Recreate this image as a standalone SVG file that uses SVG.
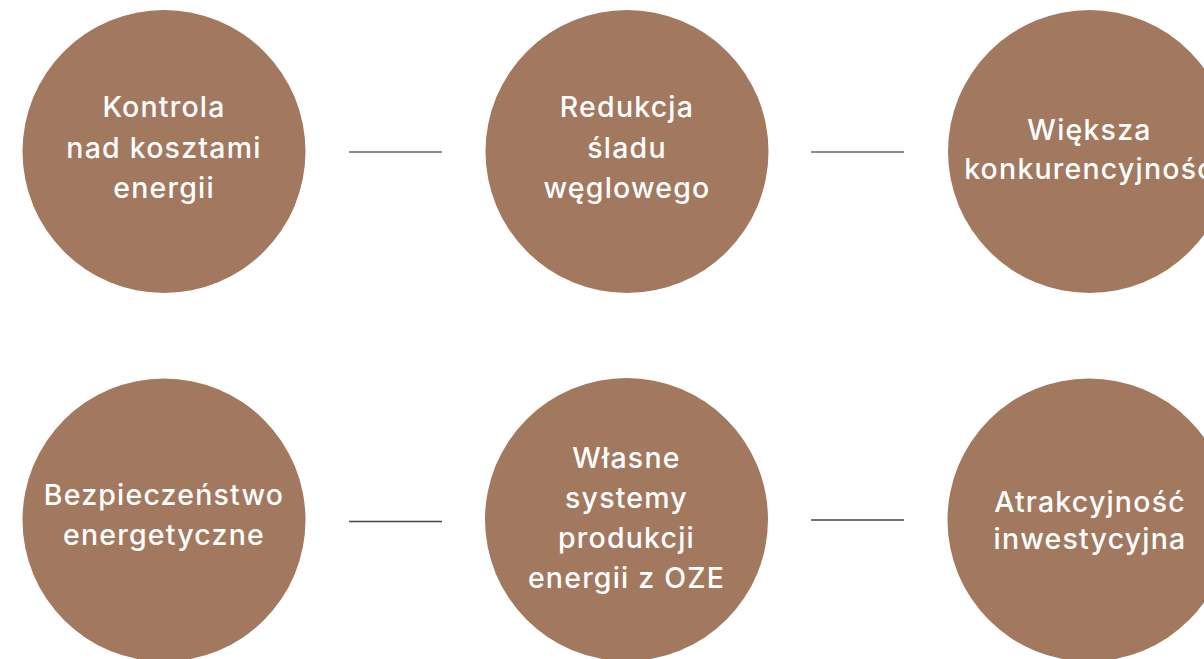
<svg xmlns="http://www.w3.org/2000/svg" width="1204" height="659" viewBox="0 0 1204 659">
<style>
.c{fill:#A2785F}
.t{font-family:Inter,"Open Sans","DejaVu Sans",sans-serif;font-size:28.5px;font-weight:500;fill:#FFFFFF;text-anchor:middle;letter-spacing:1.2px}
.l1{stroke:#666666;stroke-width:1.6}
.l2{stroke:#444444;stroke-width:1.6}
</style>
<rect width="1204" height="659" fill="#FFFFFF"/>
<g id="connectors">
<line class="l1" x1="349" y1="152" x2="442" y2="152"/>
<line class="l1" x1="811" y1="152" x2="904" y2="152"/>
<line class="l2" x1="349" y1="521.5" x2="442" y2="521.5"/>
<line class="l2" x1="811" y1="520" x2="904" y2="520"/>
</g>
<g id="n1">
<circle class="c" cx="164" cy="151.5" r="141.5"/>
<text class="t" x="164" y="117">Kontrola</text>
<text class="t" x="164" y="158">nad kosztami</text>
<text class="t" x="164" y="198">energii</text>
</g>
<g id="n2">
<circle class="c" cx="627" cy="151.5" r="141.5"/>
<text class="t" x="627" y="117">Redukcja</text>
<text class="t" x="627" y="158">śladu</text>
<text class="t" x="627" y="198">węglowego</text>
</g>
<g id="n3">
<circle class="c" cx="1089.5" cy="151.5" r="141.5"/>
<text class="t" x="1089.5" y="140">Większa</text>
<text class="t" x="1089.5" y="179">konkurencyjność</text>
</g>
<g id="n4">
<circle class="c" cx="164" cy="520" r="141.5"/>
<text class="t" x="164" y="505">Bezpieczeństwo</text>
<text class="t" x="164" y="545">energetyczne</text>
</g>
<g id="n5">
<circle class="c" cx="626.5" cy="519.5" r="141.5"/>
<text class="t" x="626.5" y="468">Własne</text>
<text class="t" x="626.5" y="508">systemy</text>
<text class="t" x="626.5" y="548">produkcji</text>
<text class="t" x="626.5" y="588">energii z OZE</text>
</g>
<g id="n6">
<circle class="c" cx="1089" cy="520" r="141.5"/>
<text class="t" x="1090" y="512">Atrakcyjność</text>
<text class="t" x="1090" y="549">inwestycyjna</text>
</g>
</svg>
